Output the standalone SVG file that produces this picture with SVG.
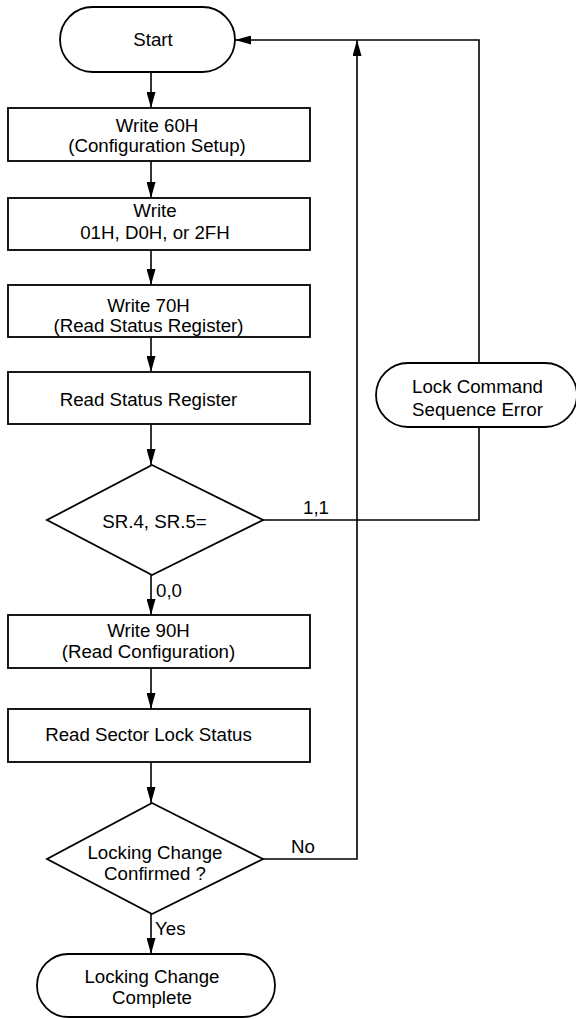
<svg xmlns="http://www.w3.org/2000/svg" width="576" height="1019" viewBox="0 0 576 1019">
<style>
.s{fill:#fff;stroke:#000;stroke-width:1.8}
.c{fill:none;stroke:#000;stroke-width:1.6}
.t{font-family:"Liberation Sans",Arial,Helvetica,sans-serif;font-size:18.7px;fill:#000;text-anchor:middle}
.l{font-family:"Liberation Sans",Arial,Helvetica,sans-serif;font-size:18.7px;fill:#000}
</style>
<defs>
<marker id="ah" markerUnits="userSpaceOnUse" markerWidth="17" markerHeight="9" refX="16" refY="4.5" orient="auto">
<path d="M0,0 L16,4.5 L0,9 z" fill="#000"/>
</marker>
</defs>
<rect width="576" height="1019" fill="#fff"/>
<g id="connectors">
<line class="c" x1="151" y1="72" x2="151" y2="108" marker-end="url(#ah)"/>
<line class="c" x1="151" y1="161" x2="151" y2="198" marker-end="url(#ah)"/>
<line class="c" x1="151" y1="250" x2="151" y2="285" marker-end="url(#ah)"/>
<line class="c" x1="151" y1="337" x2="151" y2="372" marker-end="url(#ah)"/>
<line class="c" x1="151" y1="424" x2="151" y2="465" marker-end="url(#ah)"/>
<line class="c" x1="151" y1="575" x2="151" y2="615" marker-end="url(#ah)"/>
<line class="c" x1="151" y1="668" x2="151" y2="709" marker-end="url(#ah)"/>
<line class="c" x1="151" y1="762" x2="151" y2="803" marker-end="url(#ah)"/>
<line class="c" x1="151" y1="914" x2="151" y2="954" marker-end="url(#ah)"/>
<polyline class="c" points="263,859 357,859 357,40" marker-end="url(#ah)"/>
<polyline class="c" points="479,363 479,40 235,40" marker-end="url(#ah)"/>
<polyline class="c" points="479,427 479,520 263,520"/>
<text class="l" x="303" y="514">1,1</text>
<text class="l" x="156" y="597">0,0</text>
<text class="l" x="291" y="853">No</text>
<text class="l" x="155" y="935">Yes</text>
</g>
<g id="start">
<rect class="s" x="60" y="7" width="175" height="65" rx="32.5"/>
<text class="t" x="153" y="46">Start</text>
</g>
<g id="write60">
<rect class="s" x="8" y="108" width="302" height="53"/>
<text class="t" x="157" y="132">Write 60H</text>
<text class="t" x="157" y="152">(Configuration Setup)</text>
</g>
<g id="write01">
<rect class="s" x="8" y="198" width="302" height="52"/>
<text class="t" x="155" y="217">Write</text>
<text class="t" x="155" y="239">01H, D0H, or 2FH</text>
</g>
<g id="write70">
<rect class="s" x="8" y="285" width="302" height="52"/>
<text class="t" x="148.5" y="312">Write 70H</text>
<text class="t" x="148.5" y="332">(Read Status Register)</text>
</g>
<g id="readsr">
<rect class="s" x="8" y="372" width="302" height="52"/>
<text class="t" x="148.5" y="406">Read Status Register</text>
</g>
<g id="sr45">
<polygon class="s" points="152,465 263,520 152,575 47,520"/>
<text class="t" x="154.5" y="528">SR.4, SR.5=</text>
</g>
<g id="write90">
<rect class="s" x="8" y="615" width="302" height="53"/>
<text class="t" x="148.5" y="637">Write 90H</text>
<text class="t" x="148.5" y="658">(Read Configuration)</text>
</g>
<g id="readlock">
<rect class="s" x="8" y="709" width="302" height="53"/>
<text class="t" x="148.5" y="741">Read Sector Lock Status</text>
</g>
<g id="confirm">
<polygon class="s" points="152,803 263,859 152,914 47,859"/>
<text class="t" x="155" y="859">Locking Change</text>
<text class="t" x="155" y="880">Confirmed ?</text>
</g>
<g id="complete">
<rect class="s" x="37" y="954" width="238" height="63" rx="31.5"/>
<text class="t" x="152" y="983">Locking Change</text>
<text class="t" x="152" y="1004">Complete</text>
</g>
<g id="error">
<rect class="s" x="376" y="363" width="201" height="64" rx="32"/>
<text class="t" x="477.5" y="393">Lock Command</text>
<text class="t" x="477.5" y="416">Sequence Error</text>
</g>
</svg>
